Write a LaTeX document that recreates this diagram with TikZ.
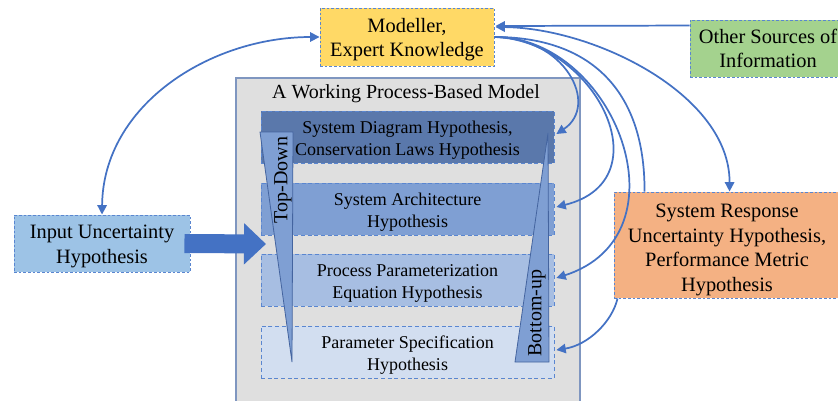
\documentclass[tikz,border=0pt]{standalone}
\usepackage{fontspec}
\setmainfont{Liberation Serif}
\usetikzlibrary{arrows.meta,calc}
\definecolor{linkblue}{HTML}{4472C4}
\definecolor{dashblue}{HTML}{5A86D0}
\definecolor{modyellow}{HTML}{FFD966}
\definecolor{othergreen}{HTML}{A4D28E}
\definecolor{srorange}{HTML}{F4B183}
\definecolor{inputblue}{HTML}{9DC3E6}
\definecolor{modelgrey}{HTML}{DFDFDF}
\definecolor{modelframe}{HTML}{7F96C0}
\definecolor{layerA}{HTML}{5A78AB}
\definecolor{layerB}{HTML}{7F9FD3}
\definecolor{layerC}{HTML}{A7BEE2}
\definecolor{layerD}{HTML}{D2DEF0}
\definecolor{wedgeedge}{HTML}{44649F}
% invisible strut on a first line: lowers a text block inside its box
\newcommand{\dropstrut}[1]{\rule{0pt}{#1}}
\tikzset{
  infobox/.style={draw=dashblue, dash pattern=on 2pt off 1.5pt, line width=0.7pt,
    inner sep=0pt, align=center, font=\fontsize{15.3}{18.3}\selectfont},
  layerbox/.style={draw=dashblue, dash pattern=on 3pt off 2pt, line width=0.6pt,
    inner sep=0pt, align=center, minimum width=219.75pt, minimum height=39pt,
    font=\fontsize{13.5}{16.2}\selectfont},
  link/.style={draw=linkblue, line width=1.3pt,
    >={Triangle[length=7pt,width=7pt]}},
  wedge/.style={fill=layerB, draw=wedgeedge, line width=0.6pt, line join=miter},
  wedgetext/.style={rotate=90, inner sep=0pt, font=\fontsize{15}{18}\selectfont},
  blockarrow/.style={draw=linkblue, line width=14.25pt,
    -{Triangle[width=30pt,length=16.5pt]}}
}
\begin{document}
\begin{tikzpicture}[x=0.75pt,y=-0.75pt]
\useasboundingbox (0,0) rectangle (838,400);

% the process-based model and its four hypothesis layers
\node[fill=modelgrey, draw=modelframe, line width=0.8pt, inner sep=0pt,
      minimum width=258pt, minimum height=250.5pt] (model) at (408,245) {};
\node[font=\fontsize{15}{18}\selectfont] (title) at (406,94) {A Working Process-Based Model};
\node[layerbox, fill=layerA] (l1) at (407.5,137)
  {\dropstrut{14.5pt}System Diagram Hypothesis,\\Conservation Laws Hypothesis};
\node[layerbox, fill=layerB] (l2) at (407.5,209)
  {\dropstrut{14.5pt}System Architecture\\Hypothesis};
\node[layerbox, fill=layerC] (l3) at (407.5,280)
  {\dropstrut{14.5pt}Process Parameterization\\Equation Hypothesis};
\node[layerbox, fill=layerD] (l4) at (407.5,352)
  {\dropstrut{14.5pt}Parameter Specification\\Hypothesis};

% top-down and bottom-up wedges
\draw[wedge] (260,132) -- (293,132) -- (292,362) -- cycle;
\node[wedgetext] (topdown) at (283,180) {Top-Down};
\draw[wedge] (548,133) -- (549,362) -- (515,362) -- cycle;
\node[wedgetext] (bottomup) at (537,313) {Bottom-up};

% surrounding sources of hypotheses
\node[infobox, fill=modyellow, minimum width=130.5pt, minimum height=43.5pt]
  (modeller) at (407,37) {\dropstrut{14.5pt}Modeller,\\Expert Knowledge};
\node[infobox, fill=othergreen, minimum width=117pt, minimum height=42.75pt]
  (other) at (768,48.5) {Other Sources of\\Information};
\node[infobox, fill=inputblue, minimum width=132pt, minimum height=42.75pt]
  (input) at (102,243.5) {\dropstrut{14.5pt}Input Uncertainty\\Hypothesis};
\node[infobox, fill=srorange, minimum width=169.5pt, minimum height=79.5pt]
  (sr) at (727,245) {\dropstrut{17.5pt}System Response\\Uncertainty Hypothesis,\\Performance Metric\\Hypothesis};

% connectors
\draw[link, <->] (input.north) .. controls (103,105) and (210,37) .. (modeller.west);
\draw[link, ->] ($(other.north west)+(0,6)$) -- ($(modeller.east)+(1,-11)$);
\draw[link, <->] ($(modeller.east)+(1,-10)$) .. controls (595,28) and (730,95) ..
  ($(sr.north west)+(116,0)$);
\draw[link, ->] (modeller.east) .. controls (565,37) and (600,105) .. ($(l1.east)+(2,-3)$);
\draw[link, ->] (modeller.east) .. controls (595,40) and (665,180) .. ($(l2.east)+(2,-2)$);
\draw[link, ->] (modeller.east) .. controls (615,37) and (690,235) .. ($(l3.east)+(2,-2)$);
\draw[link] (modeller.east) .. controls (590,37) and (645,90) .. ($(sr.north west)+(31,0)$);
\draw[link, ->] ($(sr.south west)+(4,0)$) .. controls (612,322) and (588,345) ..
  ($(l4.east)+(2,-2)$);

% block arrow feeding the input hypothesis into the model
\coordinate (blocktip) at (266,244);
\draw[blockarrow] ($(input.east)+(-6,0)$) -- (blocktip);
\end{tikzpicture}
\end{document}
